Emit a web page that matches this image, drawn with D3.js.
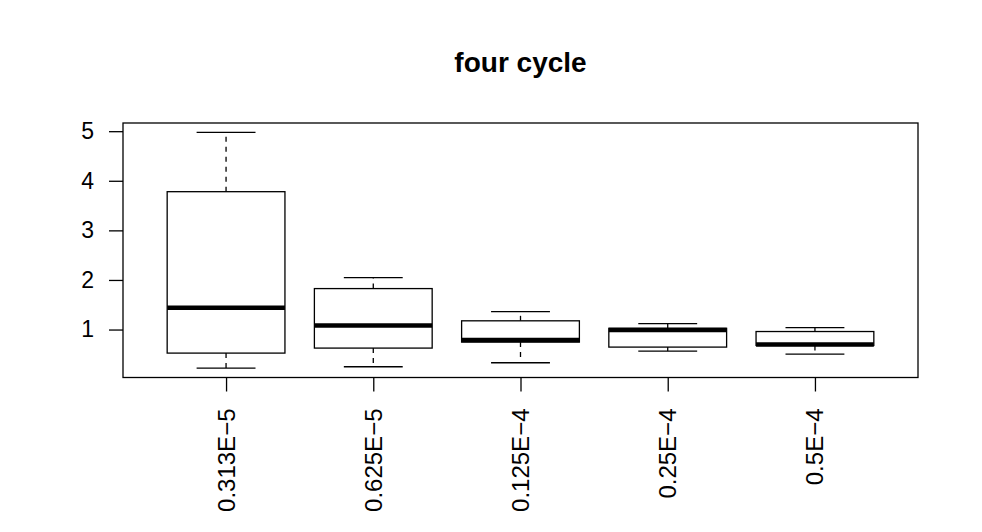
<!DOCTYPE html>
<html lang="en">
<head>
<meta charset="utf-8">
<title>four cycle</title>
<script src="https://cdn.jsdelivr.net/npm/d3@7"></script>
<style>
  body { margin: 0; background: #fff; }
  svg text { font-family: "Liberation Sans", Arial, Helvetica, sans-serif; fill: #000; }
</style>
</head>
<body>
<script>
// data
var categories = ["0.313E\u22125", "0.625E\u22125", "0.125E\u22124", "0.25E\u22124", "0.5E\u22124"];
var whiskerLow  = [0.223, 0.25, 0.33, 0.566, 0.505];
var q1          = [0.525, 0.626, 0.747, 0.646, 0.68];
var medians     = [1.437, 1.08, 0.787, 0.99, 0.70];
var q3          = [3.78, 1.826, 1.176, 1.025, 0.96];
var whiskerHigh = [4.975, 2.048, 1.363, 1.12, 1.04];
var yTicks = [1, 2, 3, 4, 5];
var title = "four cycle";

var w = 982, h = 532;
// plot region (named so they don't clash with window.top)
var plotL = 123, plotR = 918, plotT = 123, plotB = 377.5;

var svg = d3.select("body").append("svg")
  .attr("width", w).attr("height", h);

// R style range: extend data range by 4% each side
var lo = d3.min(whiskerLow), hi = d3.max(whiskerHigh);
var pad = (hi - lo) * 0.04;
var y = d3.scaleLinear().domain([lo - pad, hi + pad]).range([plotB, plotT]);

var n = categories.length;
var xpad = n * 0.04;
var x = d3.scaleLinear().domain([0.5 - xpad, n + 0.5 + xpad]).range([plotL, plotR]);

var boxW = x(1.4) - x(1.0);   // half of 0.8
var capW = boxW / 2;

var boxes = categories.map(function(c, i) {
  return { name: c, pos: i + 1, lo: whiskerLow[i], q1: q1[i], med: medians[i], q3: q3[i], hi: whiskerHigh[i] };
});

var g = svg.append("g");

// whiskers (dashed)
g.selectAll("line.wup").data(boxes).enter().append("line")
  .attr("x1", function(d) { return x(d.pos); })
  .attr("x2", function(d) { return x(d.pos); })
  .attr("y1", function(d) { return y(d.q3); })
  .attr("y2", function(d) { return y(d.hi); })
  .attr("stroke", "#000").attr("stroke-width", 1.3)
  .attr("stroke-dasharray", "5,5");

g.selectAll("line.wdn").data(boxes).enter().append("line")
  .attr("x1", function(d) { return x(d.pos); })
  .attr("x2", function(d) { return x(d.pos); })
  .attr("y1", function(d) { return y(d.q1); })
  .attr("y2", function(d) { return y(d.lo); })
  .attr("stroke", "#000").attr("stroke-width", 1.3)
  .attr("stroke-dasharray", "5,5");

// caps
["hi", "lo"].forEach(function(k) {
  g.selectAll("line.cap" + k).data(boxes).enter().append("line")
    .attr("x1", function(d) { return x(d.pos) - capW; })
    .attr("x2", function(d) { return x(d.pos) + capW; })
    .attr("y1", function(d) { return y(d[k]); })
    .attr("y2", function(d) { return y(d[k]); })
    .attr("stroke", "#000").attr("stroke-width", 1.3);
});

// boxes
g.selectAll("rect.box").data(boxes).enter().append("rect")
  .attr("x", function(d) { return x(d.pos) - boxW; })
  .attr("width", boxW * 2)
  .attr("y", function(d) { return y(d.q3); })
  .attr("height", function(d) { return y(d.q1) - y(d.q3); })
  .attr("fill", "#fff").attr("stroke", "#000").attr("stroke-width", 1.3);

// medians
g.selectAll("line.med").data(boxes).enter().append("line")
  .attr("x1", function(d) { return x(d.pos) - boxW; })
  .attr("x2", function(d) { return x(d.pos) + boxW; })
  .attr("y1", function(d) { return y(d.med); })
  .attr("y2", function(d) { return y(d.med); })
  .attr("stroke", "#000").attr("stroke-width", 4.5);

// plot frame
svg.append("rect")
  .attr("x", plotL).attr("y", plotT)
  .attr("width", plotR - plotL).attr("height", plotB - plotT)
  .attr("fill", "none").attr("stroke", "#000").attr("stroke-width", 1.3);

// y axis
var yAxis = svg.append("g")
  .attr("transform", "translate(" + plotL + ",0)")
  .call(d3.axisLeft(y).tickValues(yTicks).tickFormat(d3.format("d"))
    .tickSize(14).tickPadding(15).tickSizeOuter(0));
yAxis.select(".domain").remove();
yAxis.selectAll("line").attr("stroke", "#000").attr("stroke-width", 1.3);
yAxis.selectAll("text").style("font-size", "23px").attr("fill", "#000");

// x axis, labels rotated and right aligned under the ticks
var xAxis = svg.append("g")
  .attr("transform", "translate(0," + plotB + ")")
  .call(d3.axisBottom(x).tickValues(d3.range(1, n + 1)).tickSize(14).tickFormat(function(d) { return categories[d - 1]; }));
xAxis.select(".domain").remove();
xAxis.selectAll("line").attr("stroke", "#000").attr("stroke-width", 1.3);
xAxis.selectAll("text")
  .style("font-size", "24px")
  .attr("fill", "#000")
  .attr("text-anchor", "end")
  .attr("dy", null)
  .attr("y", 0)
  .attr("transform", "translate(8,31) rotate(-90)");

// title
svg.append("text")
  .attr("x", (plotL + plotR) / 2)
  .attr("y", 72)
  .attr("text-anchor", "middle")
  .style("font-size", "28px")
  .style("font-weight", "bold")
  .text(title);
</script>
</body>
</html>
